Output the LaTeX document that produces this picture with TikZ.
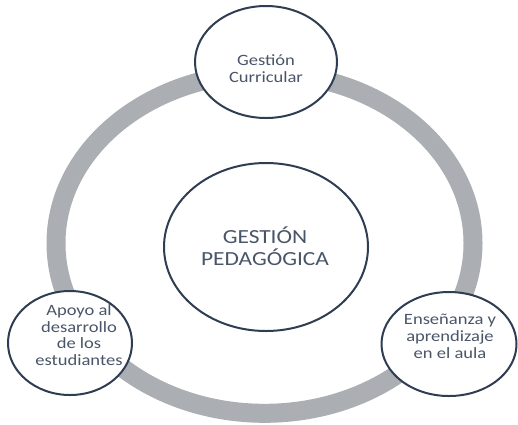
\documentclass[tikz,border=0pt]{standalone}
\usepackage{fontspec}
\setmainfont{Carlito}
\usepackage{graphicx}
\usetikzlibrary{shapes.geometric}
\definecolor{ringgray}{HTML}{ABAEB3}
\definecolor{outline}{HTML}{2F3D52}
\definecolor{txt}{HTML}{4A5568}
\tikzset{
  bubble/.style={ellipse, draw=outline, line width=2pt, fill=white, inner sep=0pt},
  lbl/.style={inner sep=0pt, text=txt},
}
\newcommand{\smalltxt}[1]{\scalebox{1.18}[1]{\fontsize{15.7}{16.7}\selectfont\begin{tabular}{@{}c@{}}#1\end{tabular}}}
\newcommand{\bigtxt}[1]{\scalebox{1.17}[1]{\fontsize{20}{20}\selectfont\begin{tabular}{@{}c@{}}#1\end{tabular}}}
\begin{document}
\begin{tikzpicture}[x=1pt,y=-1pt]
\useasboundingbox (0,0) rectangle (518,424);
% gray ring
\draw[ringgray, line width=19pt] (264.5,243.3) ellipse [x radius=208.5pt, y radius=170pt];
% bubbles
\node[bubble, minimum width=142pt, minimum height=112pt] (top) at (266,62) {};
\node[bubble, minimum width=204pt, minimum height=168pt] (center) at (266,247) {};
\node[bubble, minimum width=124pt, minimum height=104pt] (left) at (70,343) {};
\node[bubble, minimum width=135pt, minimum height=104pt] (right) at (449,344) {};
% labels
\node[lbl] (toptext) at (266,71) {\smalltxt{Gestión\\Curricular}};
\node[lbl] (centertext) at (265,249) {\bigtxt{GESTIÓN\\PEDAGÓGICA}};
\node[lbl] (lefttext) at (79,337) {\smalltxt{Apoyo al\\desarrollo\\de los\\estudiantes}};
\node[lbl] (righttext) at (450,338) {\smalltxt{Enseñanza y\\aprendizaje\\en el aula}};
\end{tikzpicture}
\end{document}
